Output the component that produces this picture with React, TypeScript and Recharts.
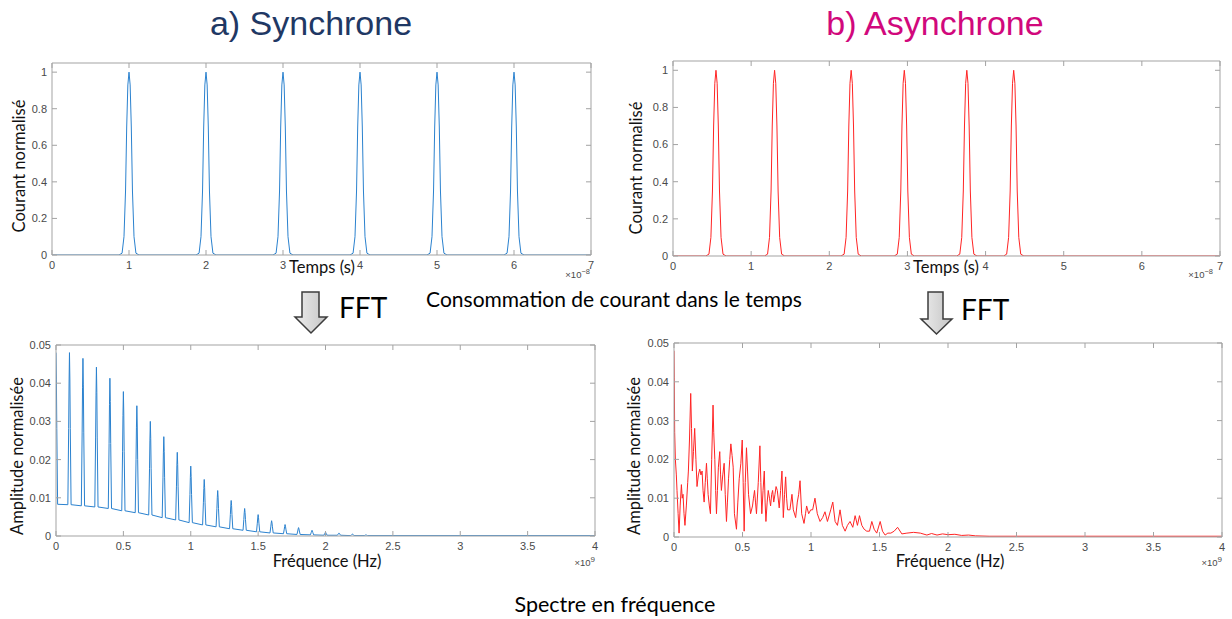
import { Line, LineChart, XAxis, YAxis } from 'recharts'

// tick labels
const timeTicks = [0, 1, 2, 3, 4, 5, 6, 7]
const currentTicks = [0, 0.2, 0.4, 0.6, 0.8, 1]
const freqTicks = [0, 0.5, 1, 1.5, 2, 2.5, 3, 3.5, 4]
const ampTicks = [0, 0.01, 0.02, 0.03, 0.04, 0.05]

// current pulses (time in 1e-8 s)
const syncPulseCenters = [1, 2, 3, 4, 5, 6]
const asyncPulseCenters = [0.55, 1.3, 2.28, 2.96, 3.76, 4.36]
const pulseOffsets = [-0.13, -0.09, -0.065, -0.045, -0.03, -0.015, 0, 0.015, 0.03, 0.045, 0.065, 0.09, 0.13]
const pulseLevels = [0, 0.01, 0.1, 0.35, 0.7, 0.93, 1, 0.93, 0.7, 0.35, 0.1, 0.01, 0]

// synchronous spectrum (freq in 1e9 Hz): harmonics every 100 MHz
const syncHarmonics = [0, 0.1, 0.2, 0.3, 0.4, 0.5, 0.6, 0.7, 0.8, 0.9, 1, 1.1, 1.2, 1.3, 1.4, 1.5, 1.6, 1.7, 1.8, 1.9, 2, 2.1, 2.2, 2.3]
const syncPeaks = [0.048, 0.048, 0.0465, 0.0442, 0.0413, 0.0378, 0.0341, 0.03, 0.026, 0.0219, 0.0183, 0.0148, 0.0119, 0.0093, 0.0072, 0.0056, 0.004, 0.003, 0.0022, 0.0015, 0.001, 0.0008, 0.0005, 0.0003]
const syncFloor = [0.0083, 0.0082, 0.0079, 0.0076, 0.0072, 0.0066, 0.0061, 0.0055, 0.0048, 0.0042, 0.0035, 0.0029, 0.0024, 0.0019, 0.0015, 0.0011, 0.0008, 0.0006, 0.0004, 0.0003, 0.0002, 0.0002, 0.0001, 0.0001]
const spikeOffsets = [-0.012, -0.006, -0.003, 0, 0.003, 0.006, 0.012]
const spikeShape = [0, 0.5, 0.8, 1, 0.82, 0.5, 0]

// asynchronous spectrum
const asyncFreq = [
  0, 0.002, 0.005, 0.01, 0.017, 0.022, 0.03, 0.037, 0.045, 0.054, 0.06, 0.066, 0.073, 0.08, 0.09, 0.1, 0.105,
  0.113, 0.122, 0.128, 0.134, 0.142, 0.151, 0.16, 0.168, 0.178, 0.188, 0.197, 0.205, 0.212, 0.22, 0.228, 0.237,
  0.243, 0.249, 0.258, 0.266, 0.275, 0.285, 0.29, 0.298, 0.304, 0.31, 0.317, 0.324, 0.334, 0.34, 0.346, 0.356,
  0.366, 0.374, 0.383, 0.39, 0.398, 0.407, 0.415, 0.424, 0.432, 0.441, 0.456, 0.466, 0.476, 0.488, 0.498, 0.505,
  0.512, 0.52, 0.529, 0.537, 0.544, 0.559, 0.573, 0.58, 0.588, 0.595, 0.602, 0.615, 0.627, 0.634, 0.641, 0.65,
  0.659, 0.665, 0.671, 0.68, 0.688, 0.697, 0.705, 0.713, 0.72, 0.728, 0.737, 0.745, 0.754, 0.768, 0.778, 0.788,
  0.798, 0.807, 0.815, 0.822, 0.829, 0.846, 0.861, 0.871, 0.888, 0.9, 0.91, 0.92, 0.932, 0.949, 0.96, 0.968,
  0.983, 0.998, 1.012, 1.029, 1.046, 1.066, 1.085, 1.102, 1.12, 1.144, 1.159, 1.176, 1.193, 1.212, 1.229, 1.249,
  1.266, 1.285, 1.305, 1.322, 1.339, 1.354, 1.371, 1.388, 1.407, 1.427, 1.444, 1.461, 1.48, 1.505, 1.522, 1.541,
  1.561, 1.583, 1.607, 1.632, 1.663, 1.7, 1.749, 1.798, 1.846, 1.88, 1.92, 1.96, 2, 2.05, 2.1, 2.15, 2.2, 2.3,
  2.5, 3, 3.5, 4,
]
const asyncAmp = [
  0.048, 0.041, 0.027, 0.02, 0.016, 0.012, 0.006, 0.001, 0.008, 0.0135, 0.01, 0.011, 0.006, 0.003, 0.008, 0.014, 0.017,
  0.025, 0.037, 0.028, 0.017, 0.022, 0.028, 0.02, 0.013, 0.016, 0.0175, 0.016, 0.017, 0.012, 0.009, 0.014, 0.019,
  0.015, 0.011, 0.008, 0.006, 0.02, 0.034, 0.027, 0.02, 0.012, 0.006, 0.012, 0.018, 0.022, 0.016, 0.012, 0.016,
  0.019, 0.011, 0.004, 0.009, 0.015, 0.02, 0.024, 0.021, 0.018, 0.006, 0.002, 0.009, 0.015, 0.019, 0.025, 0.014,
  0.0015, 0.014, 0.023, 0.017, 0.011, 0.006, 0.008, 0.01, 0.012, 0.009, 0.006, 0.014, 0.0235, 0.014, 0.006, 0.012,
  0.017, 0.009, 0.004, 0.009, 0.012, 0.01, 0.008, 0.011, 0.012, 0.009, 0.011, 0.013, 0.012, 0.0075, 0.012, 0.017,
  0.005, 0.011, 0.0155, 0.01, 0.007, 0.007, 0.011, 0.007, 0.005, 0.009, 0.011, 0.0145, 0.006, 0.0035, 0.006, 0.008,
  0.006, 0.007, 0.007, 0.01, 0.006, 0.004, 0.005, 0.0065, 0.004, 0.007, 0.009, 0.004, 0.003, 0.007, 0.003, 0.0015,
  0.003, 0.004, 0.0025, 0.0055, 0.003, 0.0055, 0.003, 0.002, 0.0015, 0.0015, 0.004, 0.002, 0.001, 0.004, 0.0015, 0.0005,
  0.001, 0.001, 0.0015, 0.0025, 0.0008, 0.001, 0.0012, 0.001, 0.0005, 0.0009, 0.0005, 0.0008, 0.0006, 0.0007, 0.0004, 0.0005, 0.0003, 0.0002,
  0.0002, 0.0002, 0.0002, 0.0002,
]

type Pt = { x: number; y: number }

const pulseTrain = (centers: number[]): Pt[] => {
  const pts: Pt[] = [{ x: 0, y: 0 }]
  centers.forEach((c) => {
    pulseOffsets.forEach((o, i) => pts.push({ x: c + o, y: pulseLevels[i] }))
  })
  pts.push({ x: 7, y: 0 })
  return pts
}

const syncSpectrum = (): Pt[] => {
  const pts: Pt[] = []
  syncHarmonics.forEach((h, k) => {
    const base = syncFloor[k]
    spikeOffsets.forEach((o, i) => {
      if (h + o < 0) return
      pts.push({ x: h + o, y: base + spikeShape[i] * (syncPeaks[k] - base) })
    })
  })
  pts.push({ x: 4, y: 0.0001 })
  return pts
}

const syncCurrent = pulseTrain(syncPulseCenters)
const asyncCurrent = pulseTrain(asyncPulseCenters)
const syncFft = syncSpectrum()
const asyncFft: Pt[] = asyncFreq.map((f, i) => ({ x: f, y: asyncAmp[i] }))

const FRAME = '#a3a3a3'
const tickText = { fill: '#4a4a4a', fontSize: 11, fontFamily: 'Liberation Sans, Arial, sans-serif' }

type PanelProps = {
  data: Pt[]
  x: number
  y: number
  w: number
  h: number
  xMax: number
  xTicks: number[]
  yMax: number
  yTicks: number[]
  color: string
}

const Panel = ({ data, x, y, w, h, xMax, xTicks, yMax, yTicks, color }: PanelProps) => {
  const L = 50
  const R = 6
  const T = 6
  const B = 24
  return (
    <div style={{ position: 'absolute', left: x - L, top: y - T }}>
      <LineChart width={L + w + R} height={T + h + B} data={data} margin={{ top: 0, right: 0, bottom: 0, left: 0 }}>
        <XAxis
          dataKey="x"
          type="number"
          domain={[0, xMax]}
          ticks={xTicks}
          allowDataOverflow
          interval={0}
          height={B}
          tickSize={-5}
          tickMargin={11}
          stroke={FRAME}
          tick={tickText}
        />
        <XAxis
          xAxisId="top"
          dataKey="x"
          orientation="top"
          type="number"
          domain={[0, xMax]}
          ticks={xTicks}
          allowDataOverflow
          interval={0}
          height={T}
          tickSize={-5}
          stroke={FRAME}
          tickFormatter={() => ''}
        />
        <YAxis
          type="number"
          domain={[0, yMax]}
          ticks={yTicks}
          allowDataOverflow
          interval={0}
          width={L}
          tickSize={-5}
          tickMargin={10}
          stroke={FRAME}
          tick={tickText}
        />
        <YAxis
          yAxisId="right"
          dataKey="y"
          orientation="right"
          type="number"
          domain={[0, yMax]}
          ticks={yTicks}
          allowDataOverflow
          interval={0}
          width={R}
          tickSize={-5}
          stroke={FRAME}
          tickFormatter={() => ''}
        />
        <Line dataKey="y" type="linear" stroke={color} strokeWidth={1} dot={false} isAnimationActive={false} />
      </LineChart>
    </div>
  )
}

const BLUE = '#2b82cf'
const RED = '#ff2424'
const labelFont = 'Lato, "Open Sans", sans-serif'

const Arrow = ({ x1, x2, hx1, hx2, top, neck, tip }: { x1: number; x2: number; hx1: number; hx2: number; top: number; neck: number; tip: number }) => (
  <polygon
    points={`${x1},${top} ${x2},${top} ${x2},${neck} ${hx2},${neck} ${(hx1 + hx2) / 2},${tip} ${hx1},${neck} ${x1},${neck}`}
    fill="url(#arrowFill)"
    stroke="#3c3c3c"
    strokeWidth={1.5}
    strokeLinejoin="miter"
  />
)

export default function App() {
  return (
    <div style={{ position: 'absolute', left: 0, top: 0, width: 1232, height: 619, background: '#fff', overflow: 'hidden' }}>
      <Panel data={syncCurrent} x={52} y={63} w={539} h={192} xMax={7} xTicks={timeTicks} yMax={1.05} yTicks={currentTicks} color={BLUE} />
      <Panel data={asyncCurrent} x={673} y={61} w={547} h={195} xMax={7} xTicks={timeTicks} yMax={1.05} yTicks={currentTicks} color={RED} />
      <Panel data={syncFft} x={56} y={345} w={539} h={191} xMax={4} xTicks={freqTicks} yMax={0.05} yTicks={ampTicks} color={BLUE} />
      <Panel data={asyncFft} x={674} y={343} w={548} h={194} xMax={4} xTicks={freqTicks} yMax={0.05} yTicks={ampTicks} color={RED} />

      <svg width={1232} height={619} style={{ position: 'absolute', left: 0, top: 0, pointerEvents: 'none' }}>
        <defs>
          <linearGradient id="arrowFill" x1="0" y1="0" x2="1" y2="0">
            <stop offset="0" stopColor="#ededed" />
            <stop offset="1" stopColor="#c4c4c4" />
          </linearGradient>
        </defs>

        <text x={311} y={35} textAnchor="middle" fontFamily="Liberation Sans, Arial, sans-serif" fontSize={34} fill="#1f3864">
          a) Synchrone
        </text>
        <text x={935} y={35} textAnchor="middle" fontFamily="Liberation Sans, Arial, sans-serif" fontSize={34} fill="#d1087c">
          b) Asynchrone
        </text>

        <g fontFamily={labelFont} fontSize={16.5} fill="#111">
          <text x={25} y={166} textAnchor="middle" transform="rotate(-90 25 166)">Courant normalisé</text>
          <text x={642} y={168} textAnchor="middle" transform="rotate(-90 642 168)">Courant normalisé</text>
          <text x={23} y={456} textAnchor="middle" transform="rotate(-90 23 456)">Amplitude normalisée</text>
          <text x={640} y={456} textAnchor="middle" transform="rotate(-90 640 456)">Amplitude normalisée</text>
          <text x={322} y={273} textAnchor="middle">Temps (s)</text>
          <text x={946} y={273} textAnchor="middle">Temps (s)</text>
          <text x={327} y={567} textAnchor="middle">Fréquence (Hz)</text>
          <text x={950} y={567} textAnchor="middle">Fréquence (Hz)</text>
        </g>

        <g fontFamily="Liberation Sans, Arial, sans-serif" fontSize={9.5} fill="#4a4a4a" textAnchor="end">
          <text x={590} y={278}>
            ×10<tspan dy={-4} fontSize={7.5}>−8</tspan>
          </text>
          <text x={1213} y={278}>
            ×10<tspan dy={-4} fontSize={7.5}>−8</tspan>
          </text>
          <text x={595} y={566}>
            ×10<tspan dy={-4} fontSize={8}>9</tspan>
          </text>
          <text x={1222} y={566}>
            ×10<tspan dy={-4} fontSize={8}>9</tspan>
          </text>
        </g>

        <Arrow x1={302} x2={319} hx1={295} hx2={327} top={292} neck={317} tip={333} />
        <Arrow x1={928} x2={943} hx1={921} hx2={952} top={292} neck={319} tip={334} />

        <g fontFamily={labelFont} fill="#000">
          <text x={339} y={318} fontSize={28}>FFT</text>
          <text x={961} y={320} fontSize={28}>FFT</text>
          <text x={614} y={307} fontSize={21} textAnchor="middle">Consommation de courant dans le temps</text>
          <text x={615} y={612} fontSize={21.5} textAnchor="middle">Spectre en fréquence</text>
        </g>
      </svg>
    </div>
  )
}
